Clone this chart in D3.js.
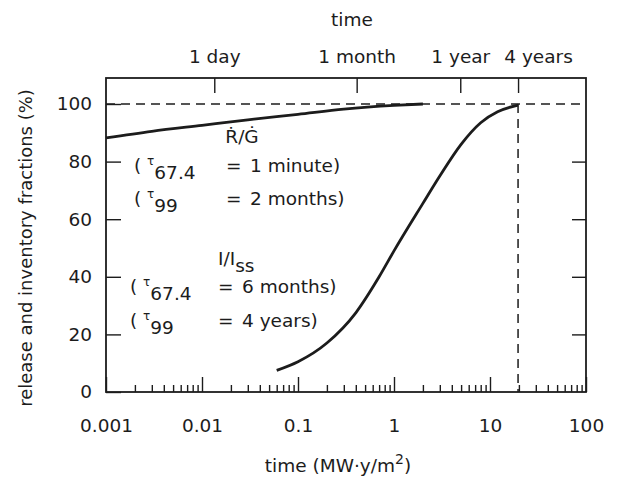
<!DOCTYPE html>
<html>
<head>
<meta charset="utf-8">
<script src="https://cdn.jsdelivr.net/npm/d3@7"></script>
<style>
body { margin: 0; background: #fff; }
text { font-family: "DejaVu Sans", "Liberation Sans", Arial, sans-serif; fill: #1c1c1c; }
</style>
</head>
<body>
<svg width="621" height="489"></svg>
<script>
// release fraction R/G (%) vs fluence (MW·y/m2)
var rgX = [0.001, 0.003, 0.01, 0.03, 0.1, 0.3, 1, 2];
var rgY = [88.2, 90.5, 92.6, 94.5, 96.4, 98.2, 99.5, 100];
// inventory fraction I/Iss (%)
var invX = [0.06, 0.1, 0.2, 0.4, 0.7, 1, 2, 3, 5, 8, 12, 19.6];
var invY = [7.5, 10.5, 17, 27.5, 40, 49, 65.5, 75, 86, 93.5, 97.3, 99.6];

var xTicks = [0.001, 0.01, 0.1, 1, 10, 100];
var xTickLabels = ["0.001", "0.01", "0.1", "1", "10", "100"];
var yTicks = [0, 20, 40, 60, 80, 100];
// top axis: time
var timeLabels = ["1 day", "1 month", "1 year", "4 years"];
var timeYears = [1 / 365, 1 / 12, 1, 4];
var wallLoad = 4.9; // MW/m2

var svg = d3.select("svg");
var mLeft = 106, mRight = 586, mTop = 78, mBottom = 392;
var fs = 18.5;

var x = d3.scaleLog().domain([0.001, 100]).range([mLeft, mRight]);
var y = d3.scaleLinear().domain([0, 100]).range([mBottom, 104]);

var ink = "#1c1c1c";

// 軸の見た目をそろえる
function styleAxis(g) {
    g.select(".domain").remove();
    g.selectAll("line").attr("stroke", ink).attr("stroke-width", 1.4);
    g.selectAll("text").attr("font-size", fs).attr("font-family", null).attr("fill", ink);
}

// 下の軸（主目盛り）
svg.append("g")
    .attr("transform", "translate(0," + mBottom + ")")
    .call(d3.axisBottom(x).tickValues(xTicks)
        .tickFormat(function(d, i) { return xTickLabels[i]; })
        .tickSize(-15).tickSizeOuter(0).tickPadding(27))
    .call(styleAxis);

// 下の軸（副目盛り）
var minor = [];
xTicks.slice(0, -1).forEach(function(d) {
    for (var k = 2; k <= 9; k++) minor.push(d * k);
});
svg.append("g")
    .attr("transform", "translate(0," + mBottom + ")")
    .call(d3.axisBottom(x).tickValues(minor).tickFormat("").tickSize(-7).tickSizeOuter(0))
    .call(styleAxis);

// 左の軸
svg.append("g")
    .attr("transform", "translate(" + mLeft + ",0)")
    .call(d3.axisLeft(y).tickValues(yTicks).tickSize(-15).tickSizeOuter(0).tickPadding(14))
    .call(styleAxis);

// 右の軸
svg.append("g")
    .attr("transform", "translate(" + mRight + ",0)")
    .call(d3.axisRight(y).tickValues([20, 40, 60, 80]).tickFormat("").tickSize(-14).tickSizeOuter(0))
    .call(styleAxis);

// 上の軸（時間）
var topAxis = svg.append("g")
    .attr("transform", "translate(0," + mTop + ")")
    .call(d3.axisTop(x).tickValues(timeYears.map(function(t) { return t * wallLoad; }))
        .tickFormat(function(d, i) { return timeLabels[i]; })
        .tickSize(-15).tickSizeOuter(0).tickPadding(15))
    .call(styleAxis);
// "4 years" は目盛りの右に寄っている
topAxis.selectAll("text").filter(function(d, i) { return i === timeLabels.length - 1; })
    .attr("dx", 20);

// 枠
svg.append("rect")
    .attr("x", mLeft).attr("y", mTop)
    .attr("width", mRight - mLeft).attr("height", mBottom - mTop)
    .attr("fill", "none").attr("stroke", ink).attr("stroke-width", 1.8);

// 破線
svg.append("line")
    .attr("x1", mLeft).attr("x2", mRight)
    .attr("y1", y(100)).attr("y2", y(100))
    .attr("stroke", ink).attr("stroke-width", 1.5).attr("stroke-dasharray", "9,6");
svg.append("line")
    .attr("x1", x(4 * wallLoad)).attr("x2", x(4 * wallLoad))
    .attr("y1", y(100)).attr("y2", y(0))
    .attr("stroke", ink).attr("stroke-width", 1.5).attr("stroke-dasharray", "9,6");

// 曲線
var line = d3.line()
    .x(function(d) { return x(d[0]); })
    .y(function(d) { return y(d[1]); })
    .curve(d3.curveMonotoneX);

svg.append("path")
    .datum(d3.zip(rgX, rgY))
    .attr("d", line)
    .attr("fill", "none").attr("stroke", ink).attr("stroke-width", 2.8);
svg.append("path")
    .datum(d3.zip(invX, invY))
    .attr("d", line)
    .attr("fill", "none").attr("stroke", ink).attr("stroke-width", 2.8);

// 軸タイトル
svg.append("text")
    .attr("x", 352).attr("y", 26)
    .attr("text-anchor", "middle").attr("font-size", fs)
    .text("time");

var xt = svg.append("text")
    .attr("x", 338).attr("y", 472)
    .attr("text-anchor", "middle").attr("font-size", fs);
xt.append("tspan").text("time (MW·y/m");
xt.append("tspan").attr("font-size", 14).attr("dy", -8).text("2");
xt.append("tspan").attr("dy", 8).text(")");

svg.append("text")
    .attr("transform", "translate(32,248) rotate(-90)")
    .attr("text-anchor", "middle").attr("font-size", 18)
    .text("release and inventory fractions (%)");

// 注釈
function tauLine(x0, base, sub, xEq, rest) {
    var t = svg.append("text").attr("x", x0).attr("y", base).attr("font-size", fs);
    t.append("tspan").text("( ");
    t.append("tspan").attr("font-size", 12).attr("dy", -7).text("τ");
    t.append("tspan").attr("dy", 14).text(sub);
    t.append("tspan").attr("x", xEq).attr("dy", -7).text("=");
    t.append("tspan").attr("x", xEq + 24).text(rest);
}

svg.append("text")
    .attr("x", 242).attr("y", 143)
    .attr("text-anchor", "middle").attr("font-size", fs)
    .text("Ṙ/Ġ");
tauLine(134, 172, "67.4", 226, "1 minute)");
tauLine(134, 205, "99", 226, "2 months)");

var iss = svg.append("text").attr("x", 218).attr("y", 265).attr("font-size", fs);
iss.append("tspan").text("I/I");
iss.append("tspan").attr("dy", 7).text("ss");
tauLine(130, 293, "67.4", 218, "6 months)");
tauLine(130, 327, "99", 218, "4 years)");
</script>
</body>
</html>
